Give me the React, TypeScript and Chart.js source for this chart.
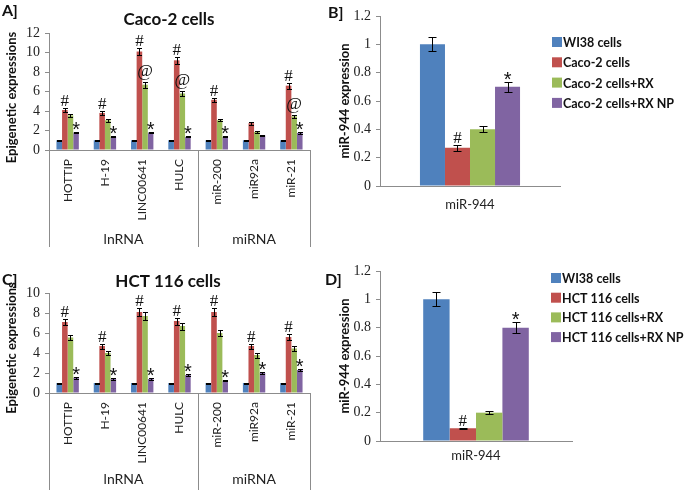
import React, { useEffect, useRef } from 'react';
import { Chart, registerables } from 'chart.js';
Chart.register(...registerables);

// ---------- data ----------
const geneCategories = ['HOTTIP', 'H-19', 'LINC00641', 'HULC', 'miR-200', 'miR92a', 'miR-21'];
const geneGroups = ['lnRNA', 'miRNA'];
const geneGroupSizes = [4, 3];

const cacoLabels = ['WI38 cells', 'Caco-2 cells', 'Caco-2 cells+RX', 'Caco-2 cells+RX NP'];
const cacoWI38 = [1, 1, 1, 1, 1, 1, 1];
const cacoCells = [4.1, 3.8, 10.1, 9.2, 5.15, 2.75, 6.6];
const cacoRX = [3.55, 3.05, 6.7, 5.8, 3.05, 1.85, 3.45];
const cacoRXNP = [1.8, 1.35, 1.8, 1.35, 1.35, 1.5, 1.75];
const cacoWI38Err = [0.05, 0.05, 0.05, 0.05, 0.05, 0.05, 0.05];
const cacoCellsErr = [0.2, 0.2, 0.35, 0.35, 0.2, 0.15, 0.3];
const cacoRXErr = [0.15, 0.15, 0.3, 0.3, 0.12, 0.1, 0.12];
const cacoRXNPErr = [0.06, 0.05, 0.06, 0.05, 0.05, 0.06, 0.06];
const cacoCellsMarks = ['#', '#', '#', '#', '#', '', '#'];
const cacoRXMarks = ['', '', '@', '@', '', '', '@'];
const cacoRXNPMarks = ['*', '*', '*', '*', '*', '', '*'];

const hctLabels = ['WI38 cells', 'HCT 116 cells', 'HCT 116 cells+RX', 'HCT 116 cells+RX NP'];
const hctWI38 = [1, 1, 1, 1, 1, 1, 1];
const hctCells = [7.1, 4.7, 8.1, 7.2, 8.1, 4.7, 5.6];
const hctRX = [5.55, 4.0, 7.7, 6.7, 6.0, 3.8, 4.45];
const hctRXNP = [1.55, 1.4, 1.4, 1.8, 1.25, 2.0, 2.3];
const hctWI38Err = [0.05, 0.05, 0.05, 0.05, 0.05, 0.05, 0.05];
const hctCellsErr = [0.3, 0.25, 0.4, 0.35, 0.4, 0.25, 0.3];
const hctRXErr = [0.25, 0.2, 0.4, 0.35, 0.3, 0.25, 0.25];
const hctRXNPErr = [0.1, 0.06, 0.06, 0.1, 0.06, 0.1, 0.08];
const hctCellsMarks = ['#', '#', '#', '#', '#', '#', '#'];
const hctRXMarks = ['', '', '', '', '', '', ''];
const hctRXNPMarks = ['*', '*', '*', '*', '*', '*', '*'];

const mirCategories = ['miR-944'];
const cacoMir = [1.0, 0.27, 0.4, 0.7];
const cacoMirErr = [0.05, 0.02, 0.02, 0.035];
const cacoMirMarks = ['', '#', '', '*'];
const hctMir = [1.0, 0.09, 0.2, 0.8];
const hctMirErr = [0.05, 0.005, 0.01, 0.04];
const hctMirMarks = ['', '#', '', '*'];

// ---------- styles ----------
const COLORS = ['#4F81BD', '#C0504D', '#9BBB59', '#8064A2'];
const AXIS = '#8c8c8c';
const TXT = '#222';
const SANS = 'Lato, "Open Sans", sans-serif';
const SERIF = 'Liberation Serif';

type Series = { label: string; color: string; values: number[]; errors: number[]; marks: string[] };
type Cfg = {
  left: number; top: number; width: number; height: number;
  area: { left: number; right: number; top: number; bottom: number };
  categories: string[]; series: Series[];
  yMax: number; yStep: number; catPct: number;
  xRot: number; xPad: number; xFontSize: number;
  cap: number;
  letter: string; letterX: number; letterY: number;
  title?: string; titleX?: number; titleY?: number;
  yTitle: string; yTitleX: number; yTitleDy: number; yTitleSize: number;
  groups?: string[]; groupSizes?: number[]; groupLineLen?: number; groupLabelDy?: number;
  legend?: { x: number; y: number; dy: number };
};

function mkSeries(labels: string[], vals: number[][], errs: number[][], marks: string[][]): Series[] {
  return labels.map((l, i) => ({ label: l, color: COLORS[i], values: vals[i], errors: errs[i], marks: marks[i] }));
}

function mkSingle(labels: string[], vals: number[], errs: number[], marks: string[]): Series[] {
  return labels.map((l, i) => ({ label: l, color: COLORS[i], values: [vals[i]], errors: [errs[i]], marks: [marks[i]] }));
}

function decor(cfg: Cfg) {
  return {
    id: 'decor',
    afterDatasetsDraw(chart: any) {
      const ctx = chart.ctx;
      const y = chart.scales.y;
      cfg.series.forEach((s, i) => {
        const meta = chart.getDatasetMeta(i);
        meta.data.forEach((el: any, j: number) => {
          const v = s.values[j], e = s.errors[j];
          const top = Math.round(y.getPixelForValue(v + e)) + 0.5;
          const bot = Math.round(y.getPixelForValue(v - e)) + 0.5;
          const x = Math.round(el.x) + 0.5;
          ctx.save();
          ctx.strokeStyle = '#000';
          ctx.lineWidth = 1;
          ctx.beginPath();
          ctx.moveTo(x, top); ctx.lineTo(x, bot);
          ctx.moveTo(x - cfg.cap, top); ctx.lineTo(x + cfg.cap, top);
          ctx.moveTo(x - cfg.cap, bot); ctx.lineTo(x + cfg.cap, bot);
          ctx.stroke();
          const m = s.marks[j];
          if (m) {
            ctx.fillStyle = '#111';
            ctx.font = m === '*' ? `20px "Liberation Sans"` : `17px "${SERIF}"`;
            ctx.textAlign = 'center';
            ctx.textBaseline = 'alphabetic';
            const mm = ctx.measureText(m);
            ctx.fillText(m, el.x, top - 3 - mm.actualBoundingBoxDescent);
          }
          ctx.restore();
        });
      });
    },
    afterDraw(chart: any) {
      const ctx = chart.ctx;
      const ca = chart.chartArea;
      ctx.save();
      ctx.fillStyle = '#111';
      ctx.textBaseline = 'alphabetic';
      ctx.textAlign = 'left';
      ctx.font = `bold 16px ${SANS}`;
      ctx.fillText(cfg.letter, cfg.letterX, cfg.letterY);
      if (cfg.title) {
        ctx.textAlign = 'center';
        ctx.font = `bold 17px ${SANS}`;
        ctx.fillText(cfg.title, cfg.titleX, cfg.titleY);
      }
      ctx.save();
      ctx.translate(cfg.yTitleX, (ca.top + ca.bottom) / 2 + cfg.yTitleDy);
      ctx.rotate(-Math.PI / 2);
      ctx.textAlign = 'center';
      ctx.textBaseline = 'middle';
      ctx.font = `bold ${cfg.yTitleSize}px ${SANS}`;
      ctx.fillText(cfg.yTitle, 0, 0);
      ctx.restore();
      if (cfg.groups && cfg.groupSizes) {
        const xs = chart.scales.x;
        const bounds = [ca.left];
        let idx = 0;
        cfg.groupSizes.forEach((n, gi) => {
          idx += n;
          if (gi < cfg.groupSizes!.length - 1) {
            bounds.push((xs.getPixelForValue(idx - 1) + xs.getPixelForValue(idx)) / 2);
          }
        });
        bounds.push(ca.right);
        ctx.strokeStyle = AXIS;
        ctx.lineWidth = 1;
        ctx.beginPath();
        bounds.forEach((b) => {
          const bx = Math.round(b) + 0.5;
          ctx.moveTo(bx, ca.bottom);
          ctx.lineTo(bx, ca.bottom + (cfg.groupLineLen || 0));
        });
        ctx.stroke();
        ctx.fillStyle = TXT;
        ctx.font = `14px ${SANS}`;
        ctx.textAlign = 'center';
        ctx.textBaseline = 'middle';
        cfg.groups.forEach((g, gi) => {
          ctx.fillText(g, (bounds[gi] + bounds[gi + 1]) / 2, ca.bottom + (cfg.groupLabelDy || 0));
        });
      }
      if (cfg.legend) {
        const L = cfg.legend;
        ctx.font = `bold 12.5px ${SANS}`;
        ctx.textAlign = 'left';
        ctx.textBaseline = 'middle';
        cfg.series.forEach((s, i) => {
          const ly = L.y + i * L.dy;
          ctx.fillStyle = s.color;
          ctx.fillRect(L.x, ly - 5, 10, 10);
          ctx.fillStyle = '#111';
          ctx.fillText(s.label, L.x + 11, ly + 1);
        });
      }
      ctx.restore();
    },
  };
}

function buildConfig(cfg: Cfg): any {
  const a = cfg.area;
  return {
    type: 'bar',
    data: {
      labels: cfg.categories,
      datasets: cfg.series.map((s) => ({
        label: s.label,
        data: s.values,
        backgroundColor: s.color,
        borderWidth: 0,
        categoryPercentage: cfg.catPct,
        barPercentage: 1,
      })),
    },
    options: {
      responsive: false,
      animation: false,
      devicePixelRatio: 1,
      layout: { padding: { left: 0, top: a.top, right: cfg.width - a.right, bottom: 0 } },
      plugins: { legend: { display: false }, tooltip: { enabled: false }, title: { display: false } },
      scales: {
        x: {
          grid: { display: false, drawTicks: false },
          border: { color: AXIS, width: 1 },
          ticks: {
            color: TXT,
            font: { family: SANS, size: cfg.xFontSize },
            padding: cfg.xPad,
            minRotation: cfg.xRot,
            maxRotation: cfg.xRot,
            autoSkip: false,
          },
          afterFit: (s: any) => { s.height = cfg.height - a.bottom; },
        },
        y: {
          min: 0,
          max: cfg.yMax,
          ticks: {
            stepSize: cfg.yStep,
            autoSkip: false,
            color: TXT,
            font: { family: SERIF, size: 14 },
            padding: 5,
            callback: (v: number) => String(Math.round(v * 10) / 10),
          },
          grid: { drawOnChartArea: false, tickLength: 4, color: AXIS },
          border: { color: AXIS, width: 1 },
          afterFit: (s: any) => { s.width = a.left; },
        },
      },
    },
    plugins: [decor(cfg)],
  };
}

const panelA: Cfg = {
  left: 0, top: 0, width: 322, height: 250,
  area: { left: 49, right: 310, top: 33, bottom: 150 },
  categories: geneCategories,
  series: mkSeries(cacoLabels, [cacoWI38, cacoCells, cacoRX, cacoRXNP], [cacoWI38Err, cacoCellsErr, cacoRXErr, cacoRXNPErr], [[], cacoCellsMarks, cacoRXMarks, cacoRXNPMarks]),
  yMax: 12, yStep: 2, catPct: 0.6,
  xRot: 90, xPad: 9, xFontSize: 12, cap: 2.5,
  letter: 'A]', letterX: 2, letterY: 16,
  title: 'Caco-2 cells', titleX: 169, titleY: 25,
  yTitle: 'Epigenetic expressions', yTitleX: 12, yTitleDy: 6, yTitleSize: 13,
  groups: geneGroups, groupSizes: geneGroupSizes, groupLineLen: 97, groupLabelDy: 89,
};

const panelC: Cfg = {
  left: 0, top: 250, width: 322, height: 242,
  area: { left: 49, right: 310, top: 43, bottom: 143 },
  categories: geneCategories,
  series: mkSeries(hctLabels, [hctWI38, hctCells, hctRX, hctRXNP], [hctWI38Err, hctCellsErr, hctRXErr, hctRXNPErr], [[], hctCellsMarks, hctRXMarks, hctRXNPMarks]),
  yMax: 10, yStep: 2, catPct: 0.6,
  xRot: 90, xPad: 9, xFontSize: 12, cap: 2.5,
  letter: 'C]', letterX: 2, letterY: 35,
  title: 'HCT 116 cells', titleX: 168, titleY: 37,
  yTitle: 'Epigenetic expressions', yTitleX: 12, yTitleDy: 5, yTitleSize: 13,
  groups: geneGroups, groupSizes: geneGroupSizes, groupLineLen: 97, groupLabelDy: 86,
};

const panelB: Cfg = {
  left: 322, top: 0, width: 363, height: 250,
  area: { left: 58, right: 238, top: 16, bottom: 186 },
  categories: mirCategories,
  series: mkSingle(cacoLabels, cacoMir, cacoMirErr, cacoMirMarks),
  yMax: 1.2, yStep: 0.2, catPct: 0.556,
  xRot: 0, xPad: 11, xFontSize: 13, cap: 4,
  letter: 'B]', letterX: 6, letterY: 18,
  yTitle: 'miR-944 expression', yTitleX: 23, yTitleDy: 0, yTitleSize: 13,
  legend: { x: 230, y: 42, dy: 20.3 },
};

const panelD: Cfg = {
  left: 322, top: 250, width: 363, height: 242,
  area: { left: 58, right: 250, top: 21, bottom: 191 },
  categories: mirCategories,
  series: mkSingle(hctLabels, hctMir, hctMirErr, hctMirMarks),
  yMax: 1.2, yStep: 0.2, catPct: 0.55,
  xRot: 0, xPad: 7, xFontSize: 13, cap: 4,
  letter: 'D]', letterX: 3, letterY: 35,
  yTitle: 'miR-944 expression', yTitleX: 23, yTitleDy: 0, yTitleSize: 13,
  legend: { x: 229, y: 28, dy: 19.7 },
};

function Panel({ cfg }: { cfg: Cfg }) {
  const ref = useRef<HTMLCanvasElement>(null);
  useEffect(() => {
    const chart = new Chart(ref.current as HTMLCanvasElement, buildConfig(cfg));
    return () => chart.destroy();
  }, [cfg]);
  return (
    <canvas
      ref={ref}
      width={cfg.width}
      height={cfg.height}
      style={{ position: 'absolute', left: cfg.left, top: cfg.top, width: cfg.width, height: cfg.height }}
    />
  );
}

export default function App() {
  return (
    <div style={{ position: 'absolute', left: 0, top: 0, width: 685, height: 492, background: '#fff', overflow: 'hidden' }}>
      <Panel cfg={panelA} />
      <Panel cfg={panelB} />
      <Panel cfg={panelC} />
      <Panel cfg={panelD} />
    </div>
  );
}
